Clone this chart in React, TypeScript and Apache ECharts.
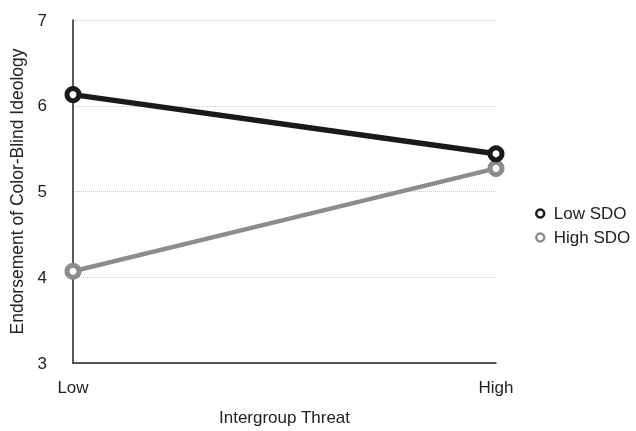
import React, { useEffect, useRef } from "react";
import * as echarts from "echarts";

const categories = ["Low", "High"];
const lowSDO = [6.13, 5.44];
const highSDO = [4.07, 5.27];
const seriesNames = ["Low SDO", "High SDO"];
const yMin = 3;
const yMax = 7;

export default function App() {
  const ref = useRef<HTMLDivElement>(null);
  useEffect(() => {
    const chart = echarts.init(ref.current!, null, { renderer: "svg" });
    const font = "Liberation Sans, Arial, sans-serif";
    const txt = "#222";
    chart.setOption({
      animation: false,
      textStyle: { fontFamily: font },
      grid: { left: 73, right: 140, top: 20, bottom: 64 },
      legend: {
        orient: "vertical",
        left: 530,
        top: 200,
        itemWidth: 17,
        itemHeight: 8,
        itemGap: 7,
        textStyle: { fontSize: 17, lineHeight: 17, color: txt, fontFamily: font },
        data: [
          { name: seriesNames[0], icon: "circle", itemStyle: { color: "#fff", borderColor: "#1a1a1a", borderWidth: 2.5 } },
          { name: seriesNames[1], icon: "circle", itemStyle: { color: "#fff", borderColor: "#8c8c8c", borderWidth: 2.5 } },
        ],
      },
      xAxis: {
        type: "category",
        data: categories,
        boundaryGap: false,
        name: "Intergroup Threat",
        nameLocation: "middle",
        nameGap: 46,
        nameTextStyle: { fontSize: 17, color: txt },
        axisLine: { lineStyle: { color: "#222", width: 1.5 } },
        axisTick: { show: false },
        axisLabel: { fontSize: 17, color: txt, margin: 16 },
      },
      yAxis: {
        type: "value",
        min: yMin,
        max: yMax,
        interval: 1,
        name: "Endorsement of Color-Blind Ideology",
        nameLocation: "middle",
        nameGap: 47,
        nameTextStyle: { fontSize: 17.5, color: txt },
        axisLine: { show: true, lineStyle: { color: "#222", width: 1.5 } },
        axisTick: { show: false },
        axisLabel: { fontSize: 17, color: txt, margin: 26 },
        splitLine: { show: true, lineStyle: { color: "#ccc", type: "dotted", width: 1 } },
      },
      series: [
        {
          name: seriesNames[0],
          type: "line",
          data: lowSDO,
          symbol: "circle",
          symbolSize: 12,
          z: 3,
          lineStyle: { color: "#1a1a1a", width: 5.5 },
          itemStyle: { color: "#fff", borderColor: "#1a1a1a", borderWidth: 5 },
        },
        {
          name: seriesNames[1],
          type: "line",
          data: highSDO,
          symbol: "circle",
          symbolSize: 12,
          z: 2,
          lineStyle: { color: "#8c8c8c", width: 4.5 },
          itemStyle: { color: "#fff", borderColor: "#8c8c8c", borderWidth: 5 },
        },
      ],
    });
    return () => chart.dispose();
  }, []);
  return <div ref={ref} style={{ position: "fixed", left: 0, top: 0, width: 636, height: 431 }} />;
}
